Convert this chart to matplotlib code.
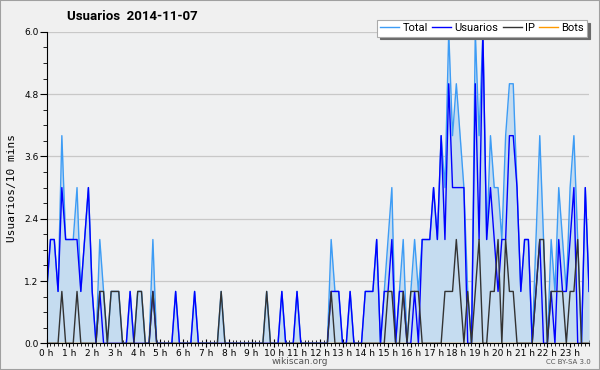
"""
Usuarios por 10 minutos, 2014-11-07 (estilo wikiscan)
"""
import matplotlib.pyplot as plt
from matplotlib.patches import Rectangle
import numpy as np

# datos: un punto cada 10 minutos (144 puntos), 12 por fila = 2 horas
usuarios = [1, 2, 2, 1, 3, 2, 2, 2, 2, 1, 2, 3,
            1, 0, 1, 0, 0, 0, 0, 0, 0, 0, 1, 0,
            0, 0, 0, 0, 1, 0, 0, 0, 0, 0, 1, 0,
            0, 0, 0, 1, 0, 0, 0, 0, 0, 0, 0, 0,
            0, 0, 0, 0, 0, 0, 0, 0, 0, 0, 0, 0,
            0, 0, 1, 0, 0, 0, 1, 0, 0, 0, 0, 0,
            0, 0, 0, 1, 1, 1, 0, 0, 1, 0, 0, 0,
            1, 1, 1, 2, 0, 1, 1, 2, 0, 1, 1, 0,
            0, 1, 0, 2, 2, 2, 3, 2, 4, 2, 5, 3,
            3, 3, 3, 0, 0, 5, 2, 6, 2, 3, 2, 1,
            2, 2, 4, 4, 3, 1, 2, 2, 0, 1, 2, 0,
            0, 1, 0, 2, 1, 1, 2, 3, 0, 0, 3, 1]
ip = [0, 0, 0, 0, 1, 0, 0, 0, 1, 0, 0, 0,
      0, 0, 1, 1, 0, 1, 1, 1, 0, 0, 0, 0,
      1, 1, 0, 0, 1, 0, 0, 0, 0, 0, 0, 0,
      0, 0, 0, 0, 0, 0, 0, 0, 0, 0, 1, 0,
      0, 0, 0, 0, 0, 0, 0, 0, 0, 0, 1, 0,
      0, 0, 0, 0, 0, 0, 0, 0, 0, 0, 0, 0,
      0, 0, 0, 1, 0, 0, 0, 0, 0, 0, 0, 0,
      0, 0, 0, 0, 0, 0, 1, 1, 0, 0, 1, 0,
      1, 1, 1, 0, 0, 0, 0, 0, 0, 1, 1, 1,
      2, 1, 0, 1, 0, 1, 2, 0, 0, 1, 1, 2,
      0, 2, 1, 1, 0, 0, 0, 0, 0, 1, 2, 2,
      0, 1, 1, 1, 1, 0, 1, 1, 2, 0, 0, 0]
bots = [0] * 144
total = [u + p + b for u, p, b in zip(usuarios, ip, bots)]

horas = ['%d h' % h for h in range(24)]

x = np.arange(len(total))

fig = plt.figure(figsize=(6.0, 3.7), dpi=100, facecolor='#f0f0f0')
ax = fig.add_axes([0.0778, 0.072, 0.904, 0.842])
ax.set_facecolor('#eff0f1')

# series
ax.fill_between(x, total, color='#c5dcf0', lw=0)
ax.plot(x, total, color='#3d9cf5', lw=1, label='Total')
ax.plot(x, usuarios, color='#0000ff', lw=1, label='Usuarios')
ax.plot(x, ip, color='#333333', lw=1, label='IP')
ax.plot(x, bots, color='#ff9900', lw=1, label='Bots', zorder=1)

# ejes
ax.set_xlim(0, 143)
ax.set_ylim(0, 6)
ax.set_yticks(np.arange(0, 6.01, 1.2))
ax.set_yticks(np.arange(0, 6.01, 0.3), minor=True)
ax.set_yticklabels(['%.1f' % v for v in np.arange(0, 6.01, 1.2)])
ax.set_xticks(np.arange(0, 144, 6))
ax.set_xticklabels(horas)
ax.set_xticks(np.arange(0, 144, 1), minor=True)
ax.grid(axis='y', color='#c8c8c8', lw=0.9)
ax.set_axisbelow(True)
for s in ['top', 'right']:
    ax.spines[s].set_visible(False)
ax.tick_params(axis='y', which='major', length=5, labelsize=6.5, pad=1)
ax.tick_params(axis='y', which='minor', length=3)
ax.tick_params(axis='x', which='major', direction='inout', length=6,
               labelsize=6.5, pad=1)
ax.tick_params(axis='x', which='minor', direction='inout', length=4)

ax.set_ylabel('Usuarios/10 mins', family='DejaVu Sans Mono', fontsize=8,
              labelpad=5)

fig.text(0.22, 0.955, 'Usuarios  2014-11-07', ha='center', va='center',
         fontsize=9.5, fontweight='bold', family=['Roboto', 'DejaVu Sans'])
fig.text(0.5, 0.022, 'wikiscan.org', ha='center', va='center', fontsize=6.5,
         color='#555555')
fig.text(0.985, 0.022, 'CC BY-SA 3.0', ha='right', va='center', fontsize=5,
         color='#555555')

leg = ax.legend(loc='upper right', ncol=4, bbox_to_anchor=(0.997, 1.038),
                prop={'family': ['Roboto', 'DejaVu Sans'], 'size': 8},
                frameon=True, fancybox=False,
                shadow={'color': '#6a6a6a', 'alpha': 1},
                handlelength=1.7, handletextpad=0.3, columnspacing=0.4,
                borderpad=0.3, borderaxespad=0)
leg.get_frame().set_edgecolor('#aaaaaa')
leg.get_frame().set_linewidth(0.8)
leg.get_frame().set_alpha(1)

# borde de la imagen
fig.patches.append(Rectangle((0, 0), 1, 1, transform=fig.transFigure,
                             fill=False, ec='#a0a0a0', lw=1.5))

fig.savefig('out.png', dpi=100, facecolor=fig.get_facecolor())
